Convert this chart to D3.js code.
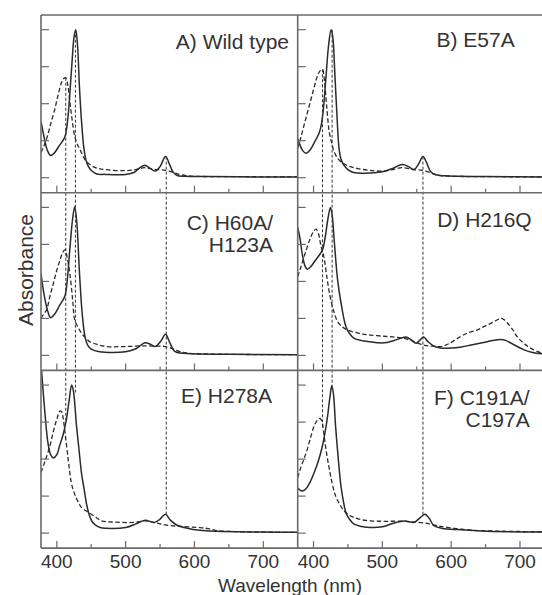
<!DOCTYPE html>
<html>
<head>
<meta charset="utf-8">
<script src="https://cdn.jsdelivr.net/npm/d3@7"></script>
<style>
html,body{margin:0;padding:0;background:#fff;}
svg{display:block;font-family:"Liberation Sans",Arial,Helvetica,sans-serif;}
</style>
</head>
<body>
<svg id="chart" width="542" height="595"></svg>
<script>
// ---- data (wavelength nm, absorbance in tick units) ----
const panelNames = ["A) Wild type", "B) E57A", "C) H60A/|H123A", "D) H216Q", "E) H278A", "F) C191A/|C197A"];
const xTicksMajor = [400, 500, 600, 700];
const xTicksMinor = [450, 550, 650];
const yTicks = [0, 1, 2, 3, 4];

const wtSolid = [[377,1.53],[382,1.05],[386,0.75],[391,0.6],[396,0.66],[403,0.85],[408,0.98],[412,1.12],[416,1.6],[419,2.3],[422,3.1],[425,3.8],[427.5,4.0],[430,3.6],[433,2.4],[436,1.5],[439,0.85],[442,0.5],[446,0.3],[451,0.18],[458,0.1],[470,0.09],[500,0.09],[512,0.14],[520,0.26],[528,0.34],[535,0.26],[543,0.18],[550,0.3],[558,0.57],[564,0.35],[569,0.15],[575,0.06],[585,0.04],[620,0.03],[700,0.02],[750,0.02]];
const wtDash = [[377,0.68],[381,0.85],[386,1.1],[391,1.45],[397,1.85],[402,2.25],[407,2.58],[410,2.68],[413,2.7],[416,2.5],[419,2.05],[422,1.6],[426,1.12],[430,0.9],[434,0.75],[441,0.49],[450,0.33],[460,0.25],[475,0.21],[500,0.19],[515,0.22],[527,0.27],[540,0.23],[559,0.2],[570,0.14],[580,0.08],[600,0.04],[650,0.03],[750,0.02]];

const e57Solid = [[377,1.05],[380,0.9],[384,0.74],[389,0.66],[395,0.75],[402,0.98],[408,1.2],[411,1.4],[414,1.8],[418,2.7],[422,3.6],[425.5,4.0],[428,3.8],[431,2.8],[434,1.7],[437,0.8],[440,0.5],[444,0.34],[450,0.22],[457,0.15],[475,0.12],[500,0.16],[515,0.25],[529,0.36],[538,0.3],[546,0.22],[552,0.35],[559,0.57],[564,0.42],[570,0.17],[578,0.08],[590,0.05],[650,0.03],[750,0.02]];
const e57Dash = [[377,0.8],[381,1.05],[386,1.4],[391,1.75],[396,2.1],[401,2.45],[406,2.77],[410,2.9],[413,2.93],[416,2.6],[419,1.95],[423,1.22],[427,0.9],[430,0.7],[436,0.5],[442,0.4],[450,0.32],[459,0.27],[480,0.2],[502,0.18],[515,0.22],[529,0.27],[545,0.22],[559,0.2],[570,0.13],[580,0.07],[600,0.04],[650,0.03],[750,0.02]];

const h60Solid = [[377,2.22],[381,1.7],[386,1.25],[391,1.02],[397,1.12],[404,1.35],[409,1.5],[412,1.62],[415,2.0],[419,2.9],[423,3.7],[426,4.02],[429,3.6],[433,2.2],[437,1.1],[441,0.5],[445,0.27],[450,0.17],[462,0.1],[500,0.1],[515,0.18],[528,0.34],[536,0.3],[543,0.24],[551,0.38],[558,0.57],[564,0.35],[572,0.1],[589,0.05],[650,0.03],[750,0.02]];
const h60Dash = [[377,1.0],[381,1.12],[385,1.23],[390,1.6],[395,1.95],[400,2.3],[405,2.6],[409,2.8],[412,2.85],[415,2.65],[419,2.2],[423,1.5],[426,0.96],[431,0.75],[436,0.6],[442,0.47],[448,0.37],[460,0.29],[472,0.24],[500,0.24],[528,0.26],[545,0.25],[558,0.24],[570,0.17],[579,0.1],[590,0.06],[650,0.03],[750,0.02]];

const h216Solid = [[377,3.45],[380,3.2],[384,2.7],[388,2.4],[391,2.33],[396,2.4],[402,2.55],[408,2.7],[413,2.85],[417,3.2],[421,3.7],[424.5,4.0],[427,3.8],[430,3.12],[435,2.04],[440,1.41],[447,0.78],[452,0.6],[459,0.46],[470,0.4],[483,0.37],[495,0.34],[507,0.35],[520,0.42],[534,0.5],[542,0.42],[549,0.33],[555,0.42],[560,0.5],[566,0.38],[575,0.25],[585,0.2],[600,0.2],[615,0.23],[629,0.28],[645,0.34],[660,0.4],[672,0.43],[680,0.4],[687,0.33],[696,0.24],[706,0.15],[718,0.08],[733,0.04],[750,0.02]];
const h216Dash = [[377,2.13],[381,2.35],[386,2.65],[391,2.94],[396,3.2],[400,3.35],[403.5,3.41],[407,3.3],[411,2.94],[415,2.67],[420,2.04],[424,1.6],[427.5,1.32],[431,1.1],[435,0.91],[442,0.77],[449,0.69],[470,0.58],[483,0.55],[500,0.52],[515,0.5],[532,0.46],[545,0.38],[560,0.28],[572,0.25],[585,0.24],[597,0.32],[609,0.46],[623,0.6],[638,0.69],[650,0.8],[662,0.91],[668,0.97],[673,1.0],[678,0.95],[682,0.87],[690,0.68],[696,0.5],[706,0.32],[716,0.19],[733,0.06],[750,0.03]];

const h278Solid = [[377,4.6],[379,4.1],[382.5,3.3],[387,2.45],[391,2.12],[395,2.03],[400,2.12],[404,2.36],[409,2.65],[414,3.08],[418,3.6],[421.5,4.0],[424,3.85],[428.7,2.88],[432,2.3],[436,1.6],[440,1.15],[443,0.8],[447,0.5],[451,0.32],[456,0.22],[463,0.15],[500,0.15],[515,0.25],[528,0.35],[542,0.29],[550,0.38],[558,0.51],[565,0.35],[574,0.22],[585,0.15],[598,0.1],[632,0.05],[700,0.03],[750,0.02]];
const h278Dash = [[377,1.64],[383,1.95],[390,2.36],[395,2.75],[400,3.08],[404.5,3.3],[407,3.28],[409,3.13],[412,2.7],[416.5,2.0],[421,1.37],[425,1.1],[429,0.92],[436,0.69],[446,0.56],[455,0.45],[465,0.33],[480,0.3],[513,0.29],[528,0.33],[545,0.27],[558,0.22],[580,0.18],[608,0.15],[620,0.12],[632,0.07],[660,0.04],[750,0.02]];

const c191Solid = [[377,1.22],[380,1.17],[384,1.14],[390,1.22],[395,1.38],[401,1.64],[407,1.95],[413,2.36],[417,2.75],[420.5,3.17],[424,3.7],[426.5,3.98],[429,3.75],[432,2.9],[436,2.0],[440,1.25],[444,0.8],[447,0.56],[452,0.38],[459,0.24],[470,0.18],[483,0.15],[500,0.17],[515,0.26],[532,0.33],[546,0.29],[555,0.42],[562,0.51],[568,0.4],[575,0.2],[590,0.12],[604,0.1],[653,0.05],[750,0.03]];
const c191Dash = [[377,1.5],[382,1.8],[386,2.0],[391,2.27],[396,2.6],[401,2.9],[406,3.06],[409.6,3.1],[413,2.95],[415.4,2.63],[419,2.15],[423,1.73],[427,1.35],[432,1.01],[438,0.78],[444.5,0.6],[452,0.48],[459,0.42],[470,0.36],[483,0.33],[500,0.32],[532,0.32],[546,0.3],[562,0.27],[580,0.2],[604,0.13],[630,0.08],[653,0.06],[750,0.03]];

const solidSeries = [wtSolid, e57Solid, h60Solid, h216Solid, h278Solid, c191Solid];
const dashSeries = [wtDash, e57Dash, h60Dash, h216Dash, h278Dash, c191Dash];

// guide lines: [nm, value in top panel, value in bottom panel]
const guidesLeft = [[413, 2.7, 3.05], [427, 4.0, 3.8], [559, 0.57, 0.51]];
const guidesRight = [[413, 2.93, 2.8], [427, 4.0, 3.98], [559, 0.57, 0.51]];

// ---- layout ----
const svg = d3.select("#chart");
const colX = [41, 297.7], colW = 256.7;
const rowY = [15, 192.7, 370.4], rowH = 177.7;
const ink = "#2a2a2a", frame = "#6a6a6a";

const xs = colX.map(x0 => d3.scaleLinear().domain([377, 750]).range([x0, x0 + colW]));
const ys = rowY.map(y0 => d3.scaleLinear().domain([-0.405, 4.397]).range([y0 + rowH, y0]));

const labelPos = [[248, 34], [217, 32], [232, 37], [234, 34], [231, 33], [232, 35]];

const defs = svg.append("defs");

for (let i = 0; i < 6; i++) {
  const c = i % 2, r = Math.floor(i / 2);
  const x = xs[c], y = ys[r];
  const id = "clip" + i;
  defs.append("clipPath").attr("id", id).append("rect")
    .attr("x", colX[c]).attr("y", rowY[r]).attr("width", colW).attr("height", rowH);
  const g = svg.append("g");
  const line = d3.line().x(d => x(d[0])).y(d => y(d[1])).curve(d3.curveCatmullRom.alpha(0.5));
  const cg = g.append("g").attr("clip-path", `url(#${id})`);
  cg.append("path").datum(dashSeries[i]).attr("d", line)
    .attr("fill", "none").attr("stroke", ink).attr("stroke-width", 1.3).attr("stroke-dasharray", "4.5,2.5");
  cg.append("path").datum(solidSeries[i]).attr("d", line)
    .attr("fill", "none").attr("stroke", ink).attr("stroke-width", 1.5);

  // y ticks (inward)
  g.append("g").selectAll("line").data(yTicks).join("line")
    .attr("x1", colX[c]).attr("x2", colX[c] + 8)
    .attr("y1", d => y(d)).attr("y2", d => y(d))
    .attr("stroke", frame).attr("stroke-width", 1.2);
  // x ticks (inward from bottom)
  const yb = rowY[r] + rowH;
  g.append("g").selectAll("line").data(xTicksMajor).join("line")
    .attr("x1", d => x(d)).attr("x2", d => x(d)).attr("y1", yb).attr("y2", yb - 7)
    .attr("stroke", frame).attr("stroke-width", 1.2);
  g.append("g").selectAll("line").data(xTicksMinor).join("line")
    .attr("x1", d => x(d)).attr("x2", d => x(d)).attr("y1", yb).attr("y2", yb - 4)
    .attr("stroke", frame).attr("stroke-width", 1.2);

  // label
  const lines = panelNames[i].split("|");
  const t = g.append("text").attr("text-anchor", "end").attr("font-size", 21).attr("fill", "#333");
  lines.forEach((s, k) => {
    t.append("tspan").attr("x", colX[c] + labelPos[i][0]).attr("y", rowY[r] + labelPos[i][1] + k * 22).text(s);
  });
}

// guide lines
[guidesLeft, guidesRight].forEach((gl, c) => {
  svg.append("g").selectAll("line").data(gl).join("line")
    .attr("x1", d => xs[c](d[0])).attr("x2", d => xs[c](d[0]))
    .attr("y1", d => ys[0](d[1])).attr("y2", d => ys[2](d[2]))
    .attr("stroke", "#333").attr("stroke-width", 1).attr("stroke-dasharray", "3,2");
});

// frame
const fr = svg.append("g").attr("stroke", frame).attr("stroke-width", 1.6);
[rowY[0], rowY[1], rowY[2], rowY[2] + rowH].forEach(yv => {
  fr.append("line").attr("x1", colX[0]).attr("x2", 542).attr("y1", yv).attr("y2", yv);
});
colX.forEach(xv => {
  fr.append("line").attr("x1", xv).attr("x2", xv).attr("y1", rowY[0]).attr("y2", rowY[2] + rowH);
});

// x tick labels
xs.forEach(x => {
  svg.append("g").selectAll("text").data(xTicksMajor).join("text")
    .attr("x", d => x(d)).attr("y", 568).attr("text-anchor", "middle")
    .attr("font-size", 19).attr("fill", "#333").text(d => d);
});

// axis titles
svg.append("text").attr("x", 290).attr("y", 592).attr("text-anchor", "middle")
  .attr("font-size", 19).attr("fill", "#333").text("Wavelength (nm)");
svg.append("text").attr("transform", "translate(33,270) rotate(-90)").attr("text-anchor", "middle")
  .attr("font-size", 21).attr("fill", "#333").text("Absorbance");
</script>
</body>
</html>
